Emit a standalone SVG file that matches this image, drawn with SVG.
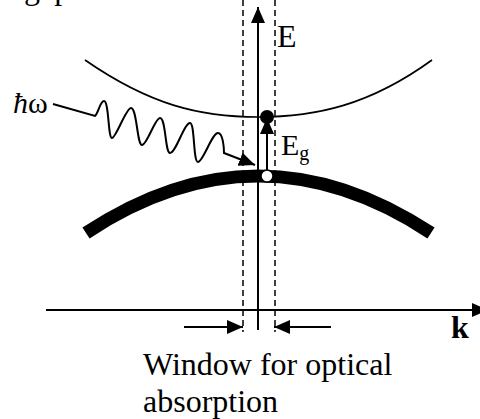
<svg xmlns="http://www.w3.org/2000/svg" width="480" height="419" viewBox="0 0 480 419">
<style>
.t{font-family:"Liberation Serif","Times New Roman",serif;fill:#000}
.ln{fill:none;stroke:#000;stroke-width:2}
.dash{fill:none;stroke:#000;stroke-width:1.5;stroke-dasharray:6 4}
</style>
<defs>
<marker id="ah" viewBox="0 0 16 14" refX="16" refY="7" markerWidth="16" markerHeight="14" orient="auto" markerUnits="userSpaceOnUse">
<path d="M0,0 L16,7 L0,14 z" fill="#000"/>
</marker>
</defs>
<rect width="480" height="419" fill="#fff"/>
<text class="t" x="24" y="-1" font-size="32">gap</text>

<g id="bands">
<path id="conduction" d="M85,60 C150,105 200,117 258,117 S370,105 432,60" fill="none" stroke="#000" stroke-width="1.7"/>
<path id="valence" d="M86,233 Q258,119 431,233" fill="none" stroke="#000" stroke-width="13"/>
</g>

<g id="connectors">
<line class="dash" x1="243" y1="0" x2="243" y2="332"/>
<line class="dash" x1="275" y1="0" x2="275" y2="332"/>
<line class="ln" x1="258" y1="330" x2="258" y2="7" marker-end="url(#ah)"/>
<line class="ln" x1="46" y1="310" x2="488" y2="310" marker-end="url(#ah)"/>
<line class="ln" x1="184" y1="327" x2="243" y2="327" marker-end="url(#ah)"/>
<line class="ln" x1="331" y1="327" x2="274" y2="327" marker-end="url(#ah)"/>
<line class="ln" x1="267" y1="170" x2="267" y2="118" marker-end="url(#ah)"/>
<path id="photon" class="ln" d="M53,104 L95,116 C99,112 100,101 104,101 C109,101 108,138 112,138 C116,138 126,108 131,108 C137,108 137,145 142,145 C147,145 155,118 160,118 C166,118 165,153 170,153 C176,153 184,123 190,123 C195,123 193,162 198,162 C203,162 212,133 218,133 C223,133 224,148 224,153 L255,165" marker-end="url(#ah)"/>
</g>

<g id="electron"><circle cx="267" cy="117" r="7" fill="#000"/></g>
<g id="hole"><circle cx="267" cy="176" r="6" fill="#fff" stroke="#000" stroke-width="1.5"/></g>

<g id="labels">
<text class="t" x="277" y="47" font-size="32">E</text>
<text class="t" x="281" y="155" font-size="30">E<tspan font-size="20" dy="5">g</tspan></text>
<text class="t" x="13" y="113" font-size="30"><tspan font-style="italic">ħ</tspan>ω</text>
<text class="t" x="451" y="338" font-size="32" font-weight="bold">k</text>
<text class="t" x="143" y="375" font-size="32">Window for optical</text>
<text class="t" x="143" y="412" font-size="32">absorption</text>
</g>
</svg>
